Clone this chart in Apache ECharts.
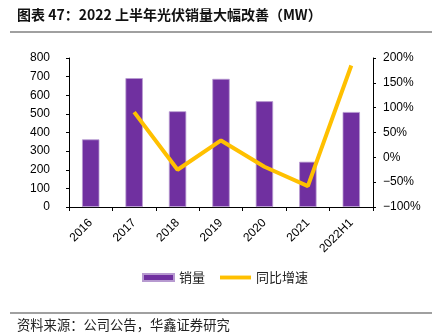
<!DOCTYPE html>
<html>
<head>
<meta charset="utf-8">
<script src="https://cdn.jsdelivr.net/npm/echarts@6/dist/echarts.min.js"></script>
<style>
  html, body { margin: 0; padding: 0; background: #fff; }
  #chart { width: 432px; height: 333px; }
</style>
</head>
<body>
<div id="chart"></div>
<script>
// Annual PV sales volume (MW) and year-on-year growth (%)
const categories = ['2016', '2017', '2018', '2019', '2020', '2021', '2022H1'];
const salesMW = [363, 692, 514, 688, 568, 243, 510];
const yoyPct = [null, 91, -25, 34, -19, -58, 185];
const leftTicks = { min: 0, max: 800, interval: 100 };
const rightTicks = { min: -100, max: 200, interval: 50 };

const titleText = '图表 47：2022 上半年光伏销量大幅改善（MW）';
const sourceText = '资料来源：公司公告，华鑫证券研究';

const numFont = '"Liberation Sans", Arial, sans-serif';
const cjkFont = '"Noto Sans CJK SC", sans-serif';

const chart = echarts.init(document.getElementById('chart'), null, { renderer: 'canvas' });

chart.setOption({
  animation: false,
  backgroundColor: '#ffffff',
  graphic: [
    {
      type: 'text', x: 17, y: 15,
      style: { text: titleText, font: 'bold 14px ' + cjkFont, fill: '#111', textVerticalAlign: 'middle' }
    },
    { type: 'line', shape: { x1: 10, y1: 32, x2: 432, y2: 32 }, style: { stroke: '#808080', lineWidth: 1.5 } },
    { type: 'line', shape: { x1: 10, y1: 313, x2: 432, y2: 313 }, style: { stroke: '#808080', lineWidth: 1.5 } },
    {
      type: 'text', x: 17, y: 325,
      style: { text: sourceText, font: '13.3px ' + cjkFont, fill: '#222', textVerticalAlign: 'middle' }
    }
  ],
  legend: {
    bottom: 44,
    left: 137,
    itemGap: 15,
    itemWidth: 31,
    itemHeight: 7,
    symbolKeepAspect: true,
    textStyle: { fontFamily: cjkFont, fontSize: 13, color: '#222' },
    data: [
      { name: '销量', icon: 'rect' },
      { name: '同比增速', icon: 'path://M0,0H32V4H0Z' }
    ]
  },
  grid: { left: 69, right: 59, top: 58, bottom: 126, containLabel: false },
  xAxis: {
    type: 'category',
    data: categories,
    axisLine: { lineStyle: { color: '#000', width: 1 } },
    axisTick: { show: true, alignWithLabel: false, length: 4, lineStyle: { color: '#000' } },
    axisLabel: { rotate: 45, color: '#000', fontFamily: numFont, fontSize: 12, margin: 14 }
  },
  yAxis: [
    {
      type: 'value',
      min: leftTicks.min, max: leftTicks.max, interval: leftTicks.interval,
      splitLine: { show: false },
      axisLine: { show: true, lineStyle: { color: '#000' } },
      axisTick: { show: true, length: 3, lineStyle: { color: '#000' } },
      axisLabel: { color: '#000', fontFamily: numFont, fontSize: 12, margin: 19 }
    },
    {
      type: 'value',
      min: rightTicks.min, max: rightTicks.max, interval: rightTicks.interval,
      splitLine: { show: false },
      axisLine: { show: true, lineStyle: { color: '#000' } },
      axisTick: { show: true, length: 3, lineStyle: { color: '#000' } },
      axisLabel: {
        color: '#000', fontFamily: numFont, fontSize: 12, margin: 10,
        formatter: v => String(v).replace('-', '\u2212') + '%'
      }
    }
  ],
  series: [
    {
      name: '销量',
      type: 'bar',
      yAxisIndex: 0,
      data: salesMW,
      barWidth: '40%',
      itemStyle: { color: '#7030A0', borderColor: '#B79AD0', borderWidth: 0.8 }
    },
    {
      name: '同比增速',
      type: 'line',
      yAxisIndex: 1,
      data: yoyPct,
      symbol: 'none',
      connectNulls: false,
      lineStyle: { color: '#FFC000', width: 4 },
      itemStyle: { color: '#FFC000' }
    }
  ]
});
</script>
</body>
</html>
